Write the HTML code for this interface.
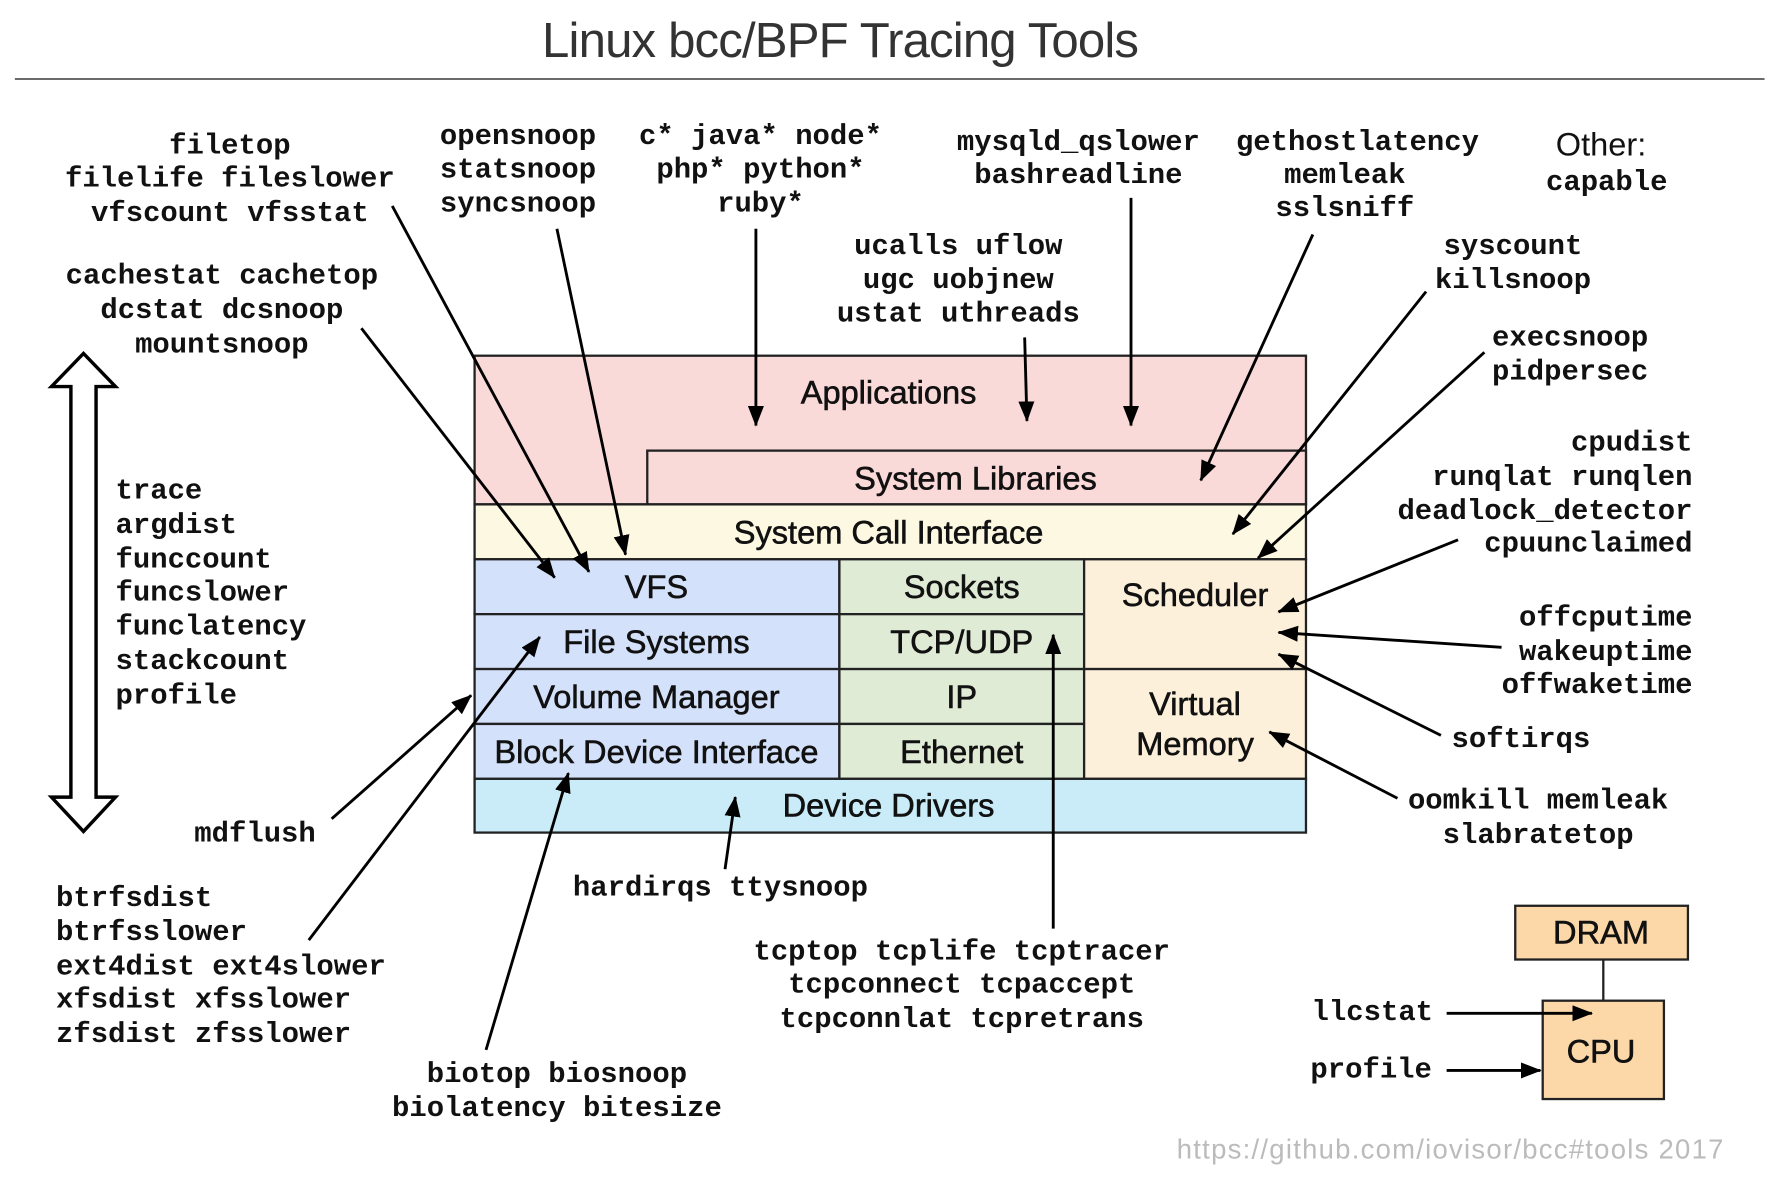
<!DOCTYPE html>
<html><head><meta charset="utf-8"><style>
html,body{margin:0;padding:0;background:#fff;}
svg{display:block;}
.m{font-family:"Liberation Mono",monospace;font-weight:bold;font-size:25.3px;fill:#111;}
.s{font-family:"Liberation Sans",sans-serif;font-size:28.5px;fill:#111;stroke:#111;stroke-width:0.5;}
</style></head><body>
<svg width="1792" height="1178" viewBox="0 0 1567 1030" xmlns="http://www.w3.org/2000/svg">
<defs>
<marker id="a" markerUnits="userSpaceOnUse" markerWidth="18" markerHeight="14" refX="17" refY="7" orient="auto">
<path d="M0,0 L18,7 L0,14 z" fill="#000"/></marker>
</defs>
<text x="735" y="50" text-anchor="middle" font-family="Liberation Sans, sans-serif" font-size="43" fill="#333" style="font-weight:300" textLength="522">Linux bcc/BPF Tracing Tools</text>
<line x1="13" y1="69" x2="1543" y2="69" stroke="#555" stroke-width="1.5"/>

<g stroke="#222" stroke-width="2">
<rect x="415" y="311" width="727" height="130" fill="#fad9d9"/>
<rect x="566" y="394" width="576" height="47" fill="#fad9d9"/>
<rect x="415" y="441" width="727" height="48" fill="#fdf8e1"/>
<rect x="415" y="489" width="319" height="48" fill="#d4e1fa"/>
<rect x="415" y="537" width="319" height="48" fill="#d4e1fa"/>
<rect x="415" y="585" width="319" height="48" fill="#d4e1fa"/>
<rect x="415" y="633" width="319" height="48" fill="#d4e1fa"/>
<rect x="734" y="489" width="214" height="48" fill="#e0ebd6"/>
<rect x="734" y="537" width="214" height="48" fill="#e0ebd6"/>
<rect x="734" y="585" width="214" height="48" fill="#e0ebd6"/>
<rect x="734" y="633" width="214" height="48" fill="#e0ebd6"/>
<rect x="948" y="489" width="194" height="96" fill="#fdf0da"/>
<rect x="948" y="585" width="194" height="96" fill="#fdf0da"/>
<rect x="415" y="681" width="727" height="47" fill="#c9ecf8"/>
<rect x="1325" y="792" width="151" height="47" fill="#fcd8a9"/>
<line x1="1402" y1="839" x2="1402" y2="875"/>
<rect x="1349" y="875" width="106" height="86" fill="#fcd8a9"/>
</g>
<g class="s" text-anchor="middle">
<text x="777" y="353">Applications</text>
<text x="853" y="428">System Libraries</text>
<text x="777" y="475">System Call Interface</text>
<text x="574" y="523">VFS</text>
<text x="574" y="571">File Systems</text>
<text x="574" y="619">Volume Manager</text>
<text x="574" y="667">Block Device Interface</text>
<text x="841" y="523">Sockets</text>
<text x="841" y="571">TCP/UDP</text>
<text x="841" y="619">IP</text>
<text x="841" y="667">Ethernet</text>
<text x="1045" y="530">Scheduler</text>
<text x="1045" y="625">Virtual</text>
<text x="1045" y="660">Memory</text>
<text x="777" y="714">Device Drivers</text>
<text x="1400" y="825">DRAM</text>
<text x="1400" y="929">CPU</text>
<text x="1400" y="136" style="stroke-width:0">Other:</text>
</g>

<path d="M73,309 L101,338 L84,338 L84,697 L101,697 L73,727 L45,697 L62,697 L62,338 L45,338 Z" fill="#fff" stroke="#000" stroke-width="3"/>

<g stroke="#000" stroke-width="2.5" marker-end="url(#a)">
<line x1="343" y1="180" x2="515" y2="500"/>
<line x1="316" y1="287" x2="485" y2="505"/>
<line x1="487" y1="200" x2="547" y2="485"/>
<line x1="661" y1="200" x2="661" y2="372"/>
<line x1="896" y1="295" x2="898" y2="368"/>
<line x1="989" y1="173" x2="989" y2="372"/>
<line x1="1148" y1="205" x2="1050" y2="420"/>
<line x1="1247" y1="255" x2="1078" y2="467"/>
<line x1="1298" y1="308" x2="1100" y2="488"/>
<line x1="1275" y1="472" x2="1118" y2="535"/>
<line x1="1313" y1="566" x2="1118" y2="553"/>
<line x1="1260" y1="643" x2="1118" y2="572"/>
<line x1="1222" y1="698" x2="1110" y2="640"/>
<line x1="290" y1="716" x2="412" y2="608"/>
<line x1="270" y1="822" x2="472" y2="557"/>
<line x1="425" y1="918" x2="497" y2="676"/>
<line x1="634" y1="760" x2="643" y2="697"/>
<line x1="921" y1="812" x2="921" y2="555"/>
<line x1="1265" y1="886" x2="1392" y2="886"/>
<line x1="1265" y1="936" x2="1347" y2="936"/>
</g>

<g class="m" text-anchor="middle">
<text x="201" y="134">filetop</text>
<text x="201" y="163">filelife fileslower</text>
<text x="201" y="193">vfscount vfsstat</text>
<text x="194" y="248">cachestat cachetop</text>
<text x="194" y="278">dcstat dcsnoop</text>
<text x="194" y="308">mountsnoop</text>
<text x="453" y="126">opensnoop</text>
<text x="453" y="155">statsnoop</text>
<text x="453" y="185">syncsnoop</text>
<text x="665" y="126">c* java* node*</text>
<text x="665" y="155">php* python*</text>
<text x="665" y="185">ruby*</text>
<text x="838" y="222">ucalls uflow</text>
<text x="838" y="252">ugc uobjnew</text>
<text x="838" y="281">ustat uthreads</text>
<text x="943" y="131">mysqld_qslower</text>
<text x="943" y="160">bashreadline</text>
<text x="1187" y="131">gethostlatency</text>
<text x="1176" y="160">memleak</text>
<text x="1176" y="189">sslsniff</text>
<text x="1405" y="166">capable</text>
<text x="1323" y="222">syscount</text>
<text x="1323" y="252">killsnoop</text>
<text x="1373" y="302">execsnoop</text>
<text x="1373" y="332">pidpersec</text>
<text x="1330" y="653">softirqs</text>
<text x="1345" y="707">oomkill memleak</text>
<text x="1345" y="737">slabratetop</text>
<text x="223" y="736">mdflush</text>
<text x="630" y="783">hardirqs ttysnoop</text>
<text x="841" y="839">tcptop tcplife tcptracer</text>
<text x="841" y="868">tcpconnect tcpaccept</text>
<text x="841" y="898">tcpconnlat tcpretrans</text>
<text x="487" y="946">biotop biosnoop</text>
<text x="487" y="976">biolatency bitesize</text>
<text x="1200" y="892">llcstat</text>
<text x="1199" y="942">profile</text>
</g>
<g class="m" text-anchor="end">
<text x="1480" y="394">cpudist</text>
<text x="1480" y="424">runqlat runqlen</text>
<text x="1480" y="454">deadlock_detector</text>
<text x="1480" y="482">cpuunclaimed</text>
<text x="1480" y="547">offcputime</text>
<text x="1480" y="577">wakeuptime</text>
<text x="1480" y="606">offwaketime</text>
</g>
<g class="m">
<text x="101" y="436">trace</text>
<text x="101" y="466">argdist</text>
<text x="101" y="496">funccount</text>
<text x="101" y="525">funcslower</text>
<text x="101" y="555">funclatency</text>
<text x="101" y="585">stackcount</text>
<text x="101" y="615">profile</text>
<text x="49" y="792">btrfsdist</text>
<text x="49" y="822">btrfsslower</text>
<text x="49" y="852">ext4dist ext4slower</text>
<text x="49" y="881">xfsdist xfsslower</text>
<text x="49" y="911">zfsdist zfsslower</text>
</g>
<text x="1029" y="1013" font-family="Liberation Sans, sans-serif" font-size="24" fill="#bbb" textLength="478">https://github.com/iovisor/bcc#tools 2017</text>
</svg>
</body></html>
